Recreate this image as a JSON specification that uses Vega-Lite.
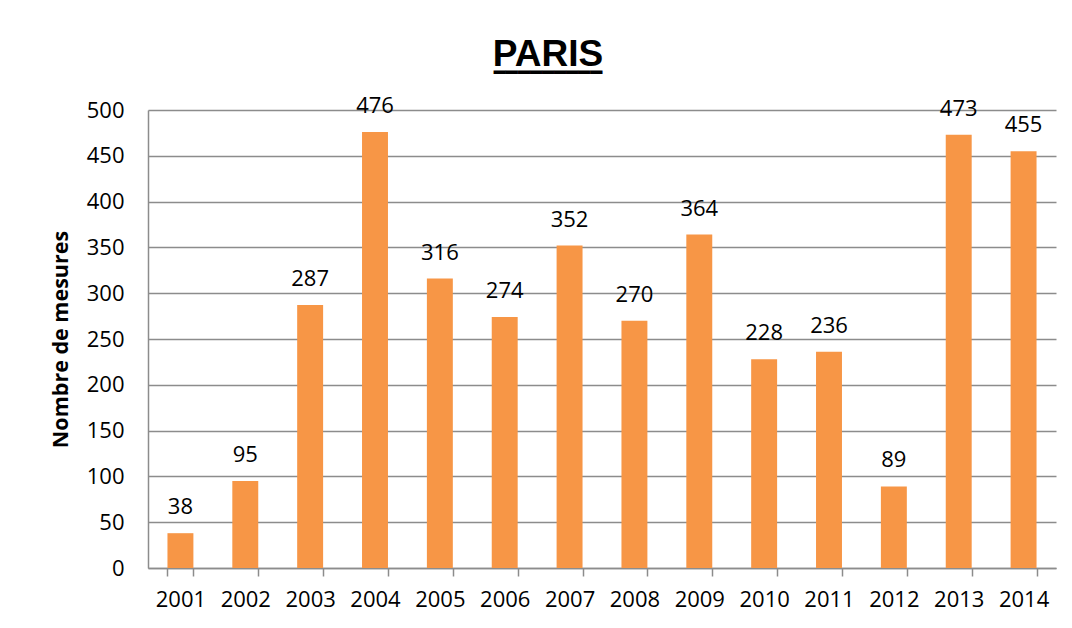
{
  "$schema": "https://vega.github.io/schema/vega-lite/v6.json",
  "autosize": "none",
  "width": 908,
  "height": 458,
  "padding": {"left": 148, "top": 110, "right": 16, "bottom": 60},
  "background": "white",
  "title": {
    "text": "PARIS",
    "subtitle": "━━━━━━━━━",
    "font": "Liberation Sans",
    "fontSize": 37,
    "fontWeight": "bold",
    "color": "black",
    "subtitleFont": "DejaVu Sans",
    "subtitleFontSize": 20,
    "subtitleColor": "black",
    "subtitlePadding": -11,
    "anchor": "middle",
    "frame": "group",
    "dx": -54,
    "offset": 11
  },
  "data": {
    "values": [
      {"annee": "2001", "mesures": 38},
      {"annee": "2002", "mesures": 95},
      {"annee": "2003", "mesures": 287},
      {"annee": "2004", "mesures": 476},
      {"annee": "2005", "mesures": 316},
      {"annee": "2006", "mesures": 274},
      {"annee": "2007", "mesures": 352},
      {"annee": "2008", "mesures": 270},
      {"annee": "2009", "mesures": 364},
      {"annee": "2010", "mesures": 228},
      {"annee": "2011", "mesures": 236},
      {"annee": "2012", "mesures": 89},
      {"annee": "2013", "mesures": 473},
      {"annee": "2014", "mesures": 455}
    ]
  },
  "encoding": {
    "x": {
      "field": "annee",
      "type": "nominal",
      "sort": null,
      "scale": {"paddingInner": 0.6, "paddingOuter": 0.3},
      "axis": {
        "title": null,
        "labelAngle": 0,
        "labelFont": "Open Sans",
        "labelFontSize": 22,
        "labelColor": "black",
        "tickBand": "extent",
        "tickSize": 8,
        "tickColor": "#8c8c8c",
        "tickWidth": 1.5,
        "domainColor": "#8c8c8c",
        "domainWidth": 1.5,
        "labelPadding": 13,
        "grid": false
      }
    },
    "y": {
      "field": "mesures",
      "type": "quantitative",
      "scale": {"domain": [0, 500], "nice": false},
      "axis": {
        "title": "Nombre de mesures",
        "titleFont": "Open Sans",
        "titleFontSize": 21.5,
        "titleFontWeight": "bold",
        "titleColor": "black",
        "titlePadding": 14,
        "values": [0, 50, 100, 150, 200, 250, 300, 350, 400, 450, 500],
        "labelFont": "Open Sans",
        "labelFontSize": 22,
        "labelColor": "black",
        "labelPadding": 24,
        "ticks": false,
        "domain": true,
        "domainColor": "#8c8c8c",
        "domainWidth": 1.5,
        "grid": true,
        "gridColor": "#8c8c8c",
        "gridWidth": 1.5
      }
    }
  },
  "layer": [
    {"mark": {"type": "bar", "color": "#F79646"}},
    {
      "mark": {
        "type": "text",
        "font": "Open Sans",
        "fontSize": 22,
        "color": "black",
        "baseline": "alphabetic",
        "dy": -19
      },
      "encoding": {"text": {"field": "mesures", "type": "quantitative"}}
    }
  ],
  "config": {"view": {"stroke": null}}
}
